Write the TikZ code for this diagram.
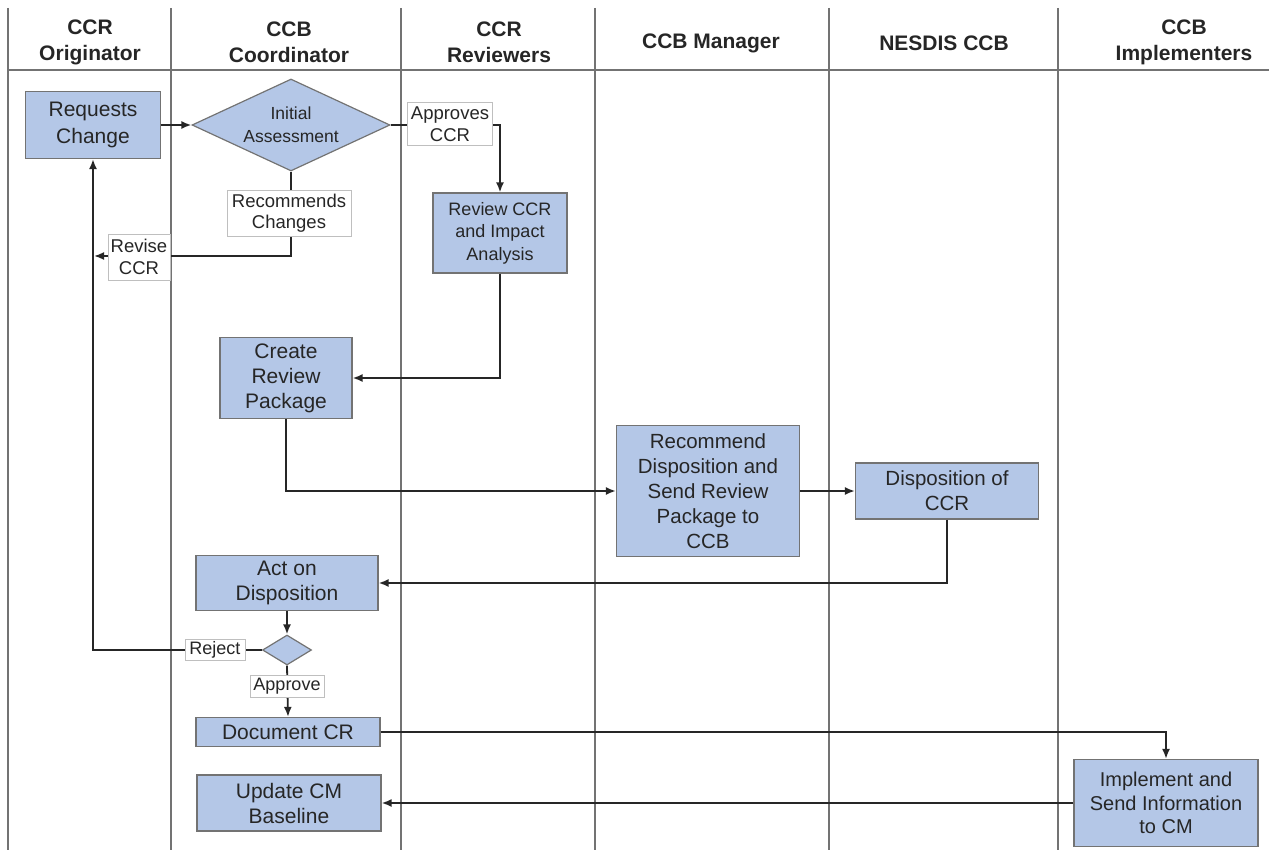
\documentclass[tikz,border=0pt]{standalone}
\usepackage{fontspec}
\setmainfont{Liberation Sans}
\usetikzlibrary{arrows.meta,shapes.geometric}
\definecolor{procblue}{RGB}{180,199,231}
\begin{document}
\begin{tikzpicture}[x=1pt,y=-1pt,
  lane/.style={draw=black!55, line width=1.8pt},
  hdr/.style={font=\fontsize{21}{26}\selectfont\bfseries, align=center, text=black!85},
  proc/.style={draw=black!55, fill=procblue, line width=1.2pt, align=center, inner sep=1pt, text=black!85},
  lbl/.style={draw=black!25, fill=white, align=center, inner sep=0.5pt, text=black!85},
  dec/.style={diamond, draw=black!55, fill=procblue, line width=1.2pt, inner sep=0pt, align=center, text=black!85},
  flow/.style={draw=black!85, line width=1.8pt, -{Latex[length=10pt,width=8pt]}},
]
\useasboundingbox (0,0) rectangle (1269,850);
% lanes
\draw[lane] (8,8) -- (8,850);
\draw[lane] (171,8) -- (171,850);
\draw[lane] (401,8) -- (401,850);
\draw[lane] (595,8) -- (595,850);
\draw[lane] (829,8) -- (829,850);
\draw[lane] (1058,8) -- (1058,850);
\draw[lane] (8,70) -- (1269,70);
% headers
\node[hdr] (h1) at (90,42) {CCR\\Originator};
\node[hdr] (h2) at (289,42) {CCB\\Coordinator};
\node[hdr] (h3) at (499,42) {CCR\\Reviewers};
\node[hdr] (h4) at (711,43) {CCB Manager};
\node[hdr] (h5) at (944,43) {NESDIS CCB};
\node[hdr] (h6) at (1184,42) {CCB\\Implementers};
% process nodes
\node[proc, minimum width=135pt, minimum height=67pt, font=\fontsize{21}{27}\selectfont] (req) at (93,125) {Requests\\Change};
\node[dec, aspect=2.15, minimum width=198pt, minimum height=92pt, font=\fontsize{17.5}{23}\selectfont] (ia) at (291,125) {Initial\\Assessment};
\node[proc, minimum width=134pt, minimum height=80pt, font=\fontsize{18}{22.5}\selectfont] (rev) at (500,233) {Review CCR\\and Impact\\Analysis};
\node[proc, minimum width=132pt, minimum height=81pt, font=\fontsize{21}{25}\selectfont] (crp) at (286,378) {Create\\Review\\Package};
\node[proc, minimum width=183pt, minimum height=131pt, font=\fontsize{20.5}{25}\selectfont] (rec) at (708,491) {Recommend\\Disposition and\\Send Review\\Package to\\CCB};
\node[proc, minimum width=183pt, minimum height=56pt, font=\fontsize{20.5}{25}\selectfont] (dis) at (947,491) {Disposition of\\CCR};
\node[proc, minimum width=182pt, minimum height=55pt, font=\fontsize{21}{25}\selectfont] (act) at (287,583) {Act on\\Disposition};
\node[dec, aspect=1.63, minimum width=49pt, minimum height=30pt] (sd) at (287,650) {};
\node[proc, minimum width=184pt, minimum height=29pt, font=\fontsize{21}{25}\selectfont] (doc) at (288,732) {Document CR};
\node[proc, minimum width=184pt, minimum height=56pt, font=\fontsize{21}{25}\selectfont] (upd) at (289,803) {Update CM\\Baseline};
\node[proc, minimum width=184pt, minimum height=87pt, font=\fontsize{20}{23.7}\selectfont] (imp) at (1166,803) {Implement and\\Send Information\\to CM};
\coordinate (rvpt) at (94,256);
% connectors
\draw[flow] (req.east) -- (ia.west);
\draw[flow] (ia.east) -| (rev.north);
\draw[flow] (ia.south) |- (rvpt);
\draw[flow] (rev.south) |- (crp.east);
\draw[flow] (crp.south) |- (rec.west);
\draw[flow] (rec.east) -- (dis.west);
\draw[flow] (dis.south) |- (act.east);
\draw[flow] (act.south) -- (sd.north);
\draw[flow] (sd.west) -| (req.south);
\draw[flow] (sd.south) -- (doc.north);
\draw[flow] (doc.east) -| (imp.north);
\draw[flow] (imp.west) -- (upd.east);
% connector labels
\node[lbl, minimum width=85pt, minimum height=43pt, font=\fontsize{18.5}{21.5}\selectfont] (app) at (450,124) {Approves\\CCR};
\node[lbl, minimum width=124pt, minimum height=46pt, font=\fontsize{18.5}{21.5}\selectfont] (rch) at (289,213) {Recommends\\Changes};
\node[lbl, minimum width=62pt, minimum height=46pt, font=\fontsize{18.5}{21.5}\selectfont] (rvs) at (139,257) {Revise\\CCR};
\node[lbl, minimum width=60pt, minimum height=21pt, font=\fontsize{18}{21}\selectfont] (rej) at (215,650) {Reject};
\node[lbl, minimum width=74pt, minimum height=22pt, font=\fontsize{18}{21}\selectfont] (apv) at (287,686) {Approve};
\end{tikzpicture}
\end{document}
